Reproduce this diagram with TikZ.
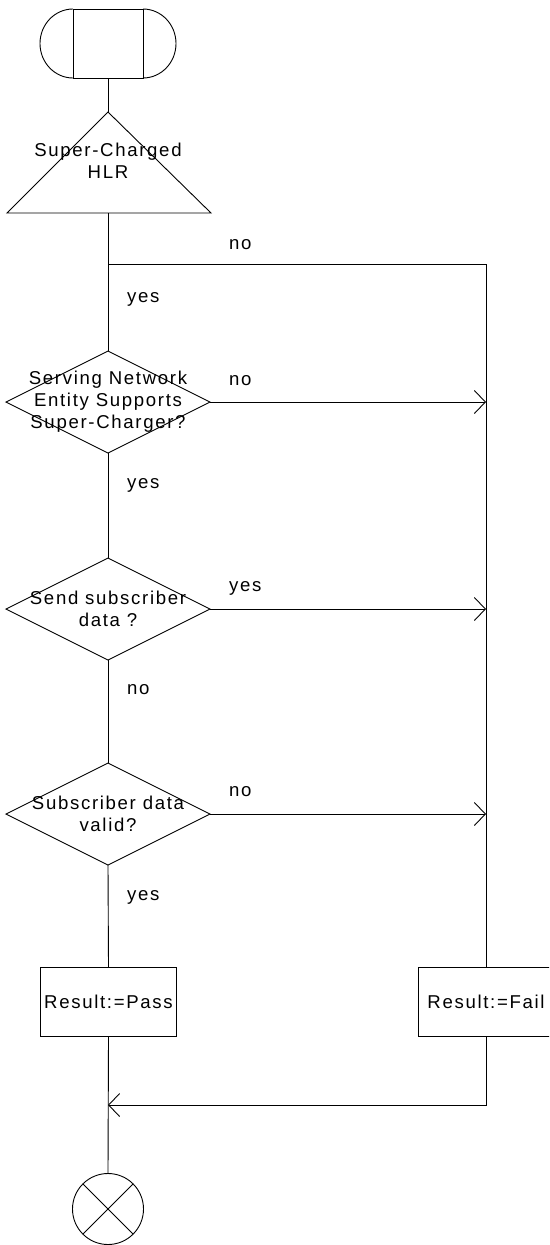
\documentclass[tikz,border=0pt]{standalone}
\usepackage{fontspec}
\setmainfont{Liberation Sans}[LetterSpace=9]
\usetikzlibrary{arrows.meta,shapes.geometric}
\begin{document}
\begin{tikzpicture}[x=1pt,y=-1pt,
  every node/.style={font=\fontsize{18.6}{22}\selectfont},
  ln/.style={line width=0.9pt},
  dec/.style={draw, line width=0.9pt, shape=diamond, minimum width=204pt, minimum height=102pt, inner sep=0pt, outer sep=0pt},
  txt/.style={align=center, inner sep=0pt},
  boxn/.style={draw, line width=0.9pt, minimum width=136pt, minimum height=69pt, inner sep=0pt, outer sep=0pt},
  lbl/.style={anchor=base west, inner sep=0pt},
  arr/.style={ln, -{Straight Barb[length=11pt,width=23pt]}}
]
\clip (0,0) rectangle (549,1245);
\fill[white] (0,0) rectangle (549,1245);
% start symbol
\node[draw, ln, minimum width=70pt, minimum height=69pt, inner sep=0pt, outer sep=0pt] (start) at (108,43.5) {};
\draw[ln] (start.north west) arc[start angle=90, end angle=270, x radius=33pt, y radius=34.5pt];
\draw[ln] (start.north east) arc[start angle=90, end angle=-90, x radius=33pt, y radius=34.5pt];
% triangle
\coordinate (tapex) at (108,112);
\coordinate (tl) at (7,213);
\coordinate (tr) at (211,213);
\coordinate (tb) at (108,213);
\draw[ln] (tapex) -- (tl) -- (tr) -- cycle;
\node[txt] (tri) at (108,161) {Super-Charged\\HLR};
% decisions
\node[dec] (d1) at (108,402) {};
\node[txt] (d1t) at (d1.center) {Serving Network\\Entity Supports\\Super-Charger?};
\node[dec] (d2) at (108,609) {};
\node[txt] (d2t) at (d2.center) {Send subscriber\\data ?};
\node[dec] (d3) at (108,814) {};
\node[txt] (d3t) at (d3.center) {Subscriber data\\valid?};
% results
\node[boxn] (pass) at (108.5,1001.5) {Result:=Pass};
\node[boxn] (fail) at (486,1001.5) {Result:=Fail};
% end
\node[draw, ln, circle, minimum size=71pt, inner sep=0pt, outer sep=0pt] (end) at (108,1209) {};
\draw[ln] (end.45) -- (end.225);
\draw[ln] (end.135) -- (end.-45);
% connectors
\coordinate (j1) at (108,264);
\coordinate (r1) at (486,264);
\coordinate (m) at (108,1105);
\draw[ln] (start.south) -- (tapex);
\draw[ln] (tb) -- (d1.north);
\draw[ln] (j1) -- (r1) -- (fail.north);
\draw[arr] (d1.east) -- (d1.east -| r1);
\draw[arr] (d2.east) -- (d2.east -| r1);
\draw[arr] (d3.east) -- (d3.east -| r1);
\draw[ln] (d1.south) -- (d2.north);
\draw[ln] (d2.south) -- (d3.north);
\draw[ln] (d3.south) -- (pass.north);
\draw[ln] (pass.south) -- (end.north);
\draw[arr] (fail.south) |- (m);
% labels
\node[lbl] (l1) at (229,249) {no};
\node[lbl] (l2) at (127,302.7) {yes};
\node[lbl] (l3) at (229,385) {no};
\node[lbl] (l4) at (127,488) {yes};
\node[lbl] (l5) at (229,591.5) {yes};
\node[lbl] (l6) at (127,694) {no};
\node[lbl] (l7) at (229,796.5) {no};
\node[lbl] (l8) at (127,900) {yes};
\end{tikzpicture}
\end{document}
